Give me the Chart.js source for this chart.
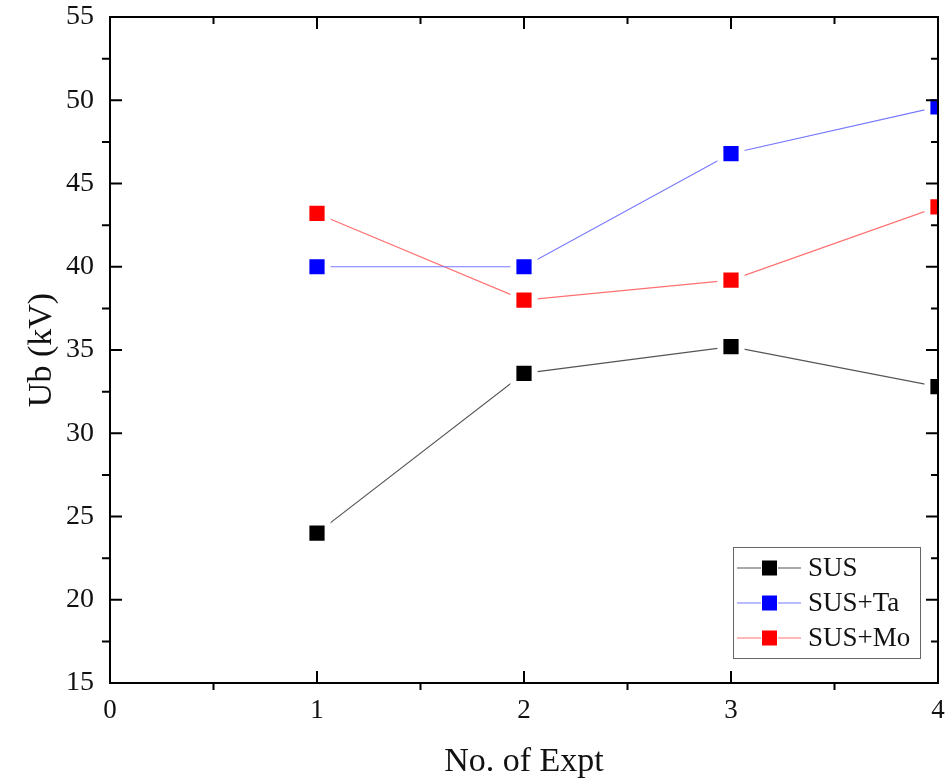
<!DOCTYPE html>
<html>
<head>
<meta charset="utf-8">
<script src="https://cdn.jsdelivr.net/npm/chart.js@4.4.1/dist/chart.umd.min.js"></script>
<style>
  html, body { margin: 0; padding: 0; background: #fff; overflow: hidden; }
  #wrap { width: 946px; height: 781px; position: relative; }
  canvas { display: block; }
</style>
</head>
<body>
<div id="wrap"><canvas id="chart"></canvas></div>
<script>
// breakdown voltage per experiment run
var expts = [1, 2, 3, 4];
var susValues = [24.0, 33.6, 35.2, 32.8];
var susTaValues = [40.0, 40.0, 46.8, 49.6];
var susMoValues = [43.2, 38.0, 39.2, 43.6];

var seriesLabels = ['SUS', 'SUS+Ta', 'SUS+Mo'];
var xTickValues = [0, 1, 2, 3, 4];
var yTickValues = [15, 20, 25, 30, 35, 40, 45, 50, 55];

var serif = 'Liberation Serif, Times New Roman, serif';

function points(values) {
    return values.map(function (v, i) {
        return { x: expts[i], y: v };
    });
}

function series(label, values, lineColor, markColor) {
    return {
        label: label,
        data: points(values),
        borderColor: lineColor,
        borderWidth: 1.2,
        backgroundColor: markColor,
        pointStyle: 'rect',
        pointRadius: 15,
        pointBorderWidth: 6,
        pointBorderColor: '#fff',
        pointBackgroundColor: markColor,
        tension: 0,
        clip: 0
    };
}

// keep the plot box where the layout padding puts it
function noPadding(scale) {
    scale.paddingTop = 0;
    scale.paddingBottom = 0;
    scale.paddingLeft = 0;
    scale.paddingRight = 0;
}

// Origin-style frame: box, inward major ticks, outward minor ticks on left/bottom
var framePlugin = {
    id: 'frame',
    afterDatasetsDraw: function (chart) {
        var ctx = chart.ctx;
        var area = chart.chartArea;
        var xs = chart.scales.x, ys = chart.scales.y;
        ctx.save();
        ctx.strokeStyle = '#000';
        ctx.lineWidth = 2;
        ctx.beginPath();
        var v, p;
        for (v = 0; v <= 4; v += 0.5) {
            p = xs.getPixelForValue(v);
            if (v % 1 === 0) {
                ctx.moveTo(p, area.bottom); ctx.lineTo(p, area.bottom - 12);
                ctx.moveTo(p, area.top); ctx.lineTo(p, area.top + 12);
            } else {
                ctx.moveTo(p, area.bottom); ctx.lineTo(p, area.bottom + 7);
                ctx.moveTo(p, area.top); ctx.lineTo(p, area.top + 7);
            }
        }
        for (v = 15; v <= 55; v += 2.5) {
            p = ys.getPixelForValue(v);
            if (v % 5 === 0) {
                ctx.moveTo(area.left, p); ctx.lineTo(area.left + 12, p);
                ctx.moveTo(area.right, p); ctx.lineTo(area.right - 12, p);
            } else {
                ctx.moveTo(area.left, p); ctx.lineTo(area.left - 8, p);
                ctx.moveTo(area.right, p); ctx.lineTo(area.right - 7, p);
            }
        }
        ctx.stroke();
        ctx.strokeRect(area.left, area.top, area.right - area.left, area.bottom - area.top);

        // legend box in lower right corner
        var lx = 733, ly = 547, lw = 187, lh = 111;
        ctx.fillStyle = '#fff';
        ctx.fillRect(lx, ly, lw, lh);
        ctx.strokeStyle = '#666';
        ctx.lineWidth = 1;
        ctx.strokeRect(lx + 0.5, ly + 0.5, lw, lh);
        ctx.font = '27px ' + serif;
        ctx.textBaseline = 'middle';
        ctx.textAlign = 'left';
        chart.data.datasets.forEach(function (ds, i) {
            var cy = 568 + i * 35;
            ctx.strokeStyle = ds.borderColor;
            ctx.lineWidth = 1.2;
            ctx.beginPath();
            ctx.moveTo(737, cy); ctx.lineTo(761, cy);
            ctx.moveTo(778, cy); ctx.lineTo(801, cy);
            ctx.stroke();
            ctx.fillStyle = ds.pointBackgroundColor;
            ctx.fillRect(762, cy - 7.5, 15, 15);
            ctx.fillStyle = '#111';
            ctx.fillText(ds.label, 808, cy + 1);
        });
        ctx.restore();
    }
};

new Chart(document.getElementById('chart'), {
    type: 'line',
    data: {
        datasets: [
            series(seriesLabels[0], susValues, '#555', '#000'),
            series(seriesLabels[1], susTaValues, '#7777ff', '#0000ff'),
            series(seriesLabels[2], susMoValues, '#ff7070', '#ff0000')
        ]
    },
    plugins: [framePlugin],
    options: {
        responsive: true,
        maintainAspectRatio: false,
        animation: false,
        events: [],
        layout: { autoPadding: false, padding: { top: 17, right: 8, left: 0, bottom: 0 } },
        plugins: {
            legend: { display: false },
            tooltip: { enabled: false }
        },
        scales: {
            x: {
                type: 'linear',
                min: 0,
                max: 4,
                afterFit: function (scale) { scale.height = 98; noPadding(scale); },
                afterBuildTicks: function (scale) {
                    scale.ticks = xTickValues.map(function (v) { return { value: v }; });
                },
                grid: { display: false, drawTicks: false },
                border: { display: false },
                ticks: {
                    padding: 12,
                    color: '#111',
                    font: { family: serif, size: 27 }
                },
                title: {
                    display: true,
                    text: 'No. of Expt',
                    color: '#111',
                    font: { family: serif, size: 34, lineHeight: 1 },
                    padding: { top: 0, bottom: 2 }
                }
            },
            y: {
                type: 'linear',
                min: 15,
                max: 55,
                afterFit: function (scale) { scale.width = 110; noPadding(scale); },
                afterBuildTicks: function (scale) {
                    scale.ticks = yTickValues.map(function (v) { return { value: v }; });
                },
                grid: { display: false, drawTicks: false },
                border: { display: false },
                ticks: {
                    padding: 16,
                    color: '#111',
                    font: { family: serif, size: 28 }
                },
                title: {
                    display: true,
                    text: 'Ub (kV)',
                    color: '#111',
                    font: { family: serif, size: 34, lineHeight: 1 },
                    padding: { top: 25, bottom: 0 }
                }
            }
        }
    }
});
</script>
</body>
</html>
